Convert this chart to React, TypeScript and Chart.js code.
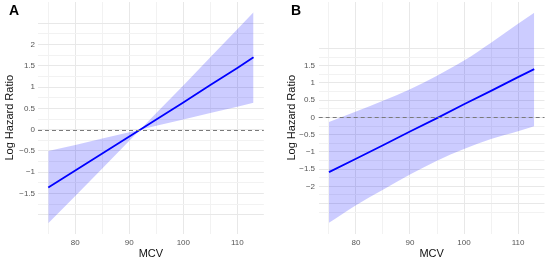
import React, { useEffect, useRef } from 'react';
import { Chart, registerables } from 'chart.js';
Chart.register(...registerables);

// Panel A data
const mcvA = [75, 80, 85, 90, 92, 95, 100, 105, 110, 113];
const logHrA = [-1.36, -0.96, -0.56, -0.16, 0, 0.24, 0.64, 1.05, 1.45, 1.7];
const upperA = [-0.5, -0.36, -0.21, -0.06, 0, 0.39, 1.04, 1.7, 2.36, 2.76];
const lowerA = [-2.2, -1.56, -0.91, -0.26, 0, 0.09, 0.24, 0.39, 0.54, 0.63];

// Panel B data
const mcvB = [75, 80, 85, 90, 95, 100, 105, 110, 113];
const logHrB = [-1.59, -1.2, -0.81, -0.41, -0.02, 0.38, 0.77, 1.17, 1.4];
const upperB = [-0.13, 0.17, 0.48, 0.82, 1.21, 1.65, 2.17, 2.72, 3.04];
const lowerB = [-3.06, -2.55, -2.1, -1.66, -1.26, -0.92, -0.63, -0.4, -0.26];

// Axis ticks
const xTickLabels = [80, 90, 100, 110];
const yLabelsA = [-1.5, -1, -0.5, 0, 0.5, 1, 1.5, 2];
const yLabelsB = [-2, -1.5, -1, -0.5, 0, 0.5, 1, 1.5];

const FONT = "'Liberation Sans', Arial, Helvetica, sans-serif";

const fmt = (v: number) => (v < 0 ? '\u2212' + Math.abs(v) : String(v));

const zeroLine = {
  id: 'zeroLine',
  afterDatasetsDraw(chart: any) {
    const { ctx, chartArea, scales } = chart;
    const py = Math.round(scales.y.getPixelForValue(0)) + 0.5;
    ctx.save();
    ctx.strokeStyle = '#7a7a7a';
    ctx.lineWidth = 1;
    ctx.setLineDash([4, 3]);
    ctx.beginPath();
    ctx.moveTo(chartArea.left, py);
    ctx.lineTo(chartArea.right, py);
    ctx.stroke();
    ctx.restore();
  },
};

type PanelProps = {
  xs: number[];
  center: number[];
  upper: number[];
  lower: number[];
  yLabels: number[];
  yMin: number;
  yMax: number;
  gridFrom: number;
  gridTo: number;
  yWidth: number;
  titlePad: number;
  tickPad: number;
  rightPad: number;
  curved: boolean;
};

function Panel(p: PanelProps) {
  const ref = useRef<HTMLCanvasElement>(null);
  useEffect(() => {
    if (!ref.current) return;
    const toPts = (ys: number[]) => p.xs.map((x, i) => ({ x, y: ys[i] }));
    const interp = p.curved ? 'monotone' : 'default';
    const chart = new Chart(ref.current, {
      type: 'line',
      data: {
        datasets: [
          {
            label: 'lower',
            data: toPts(p.lower),
            borderWidth: 0,
            pointRadius: 0,
            fill: false,
            tension: 0,
            cubicInterpolationMode: interp as any,
            borderColor: 'rgba(0,0,0,0)',
          },
          {
            label: 'upper',
            data: toPts(p.upper),
            borderWidth: 0,
            pointRadius: 0,
            fill: '-1',
            backgroundColor: 'rgba(0,0,255,0.2)',
            tension: 0,
            cubicInterpolationMode: interp as any,
            borderColor: 'rgba(0,0,0,0)',
          },
          {
            label: 'fit',
            data: toPts(p.center),
            borderWidth: 1.8,
            borderColor: '#0000ff',
            pointRadius: 0,
            fill: false,
            tension: 0,
          },
        ],
      },
      options: {
        responsive: false,
        animation: false,
        events: [],
        layout: { padding: { top: 2, right: p.rightPad, bottom: 0, left: 0 } },
        plugins: { legend: { display: false }, tooltip: { enabled: false } },
        scales: {
          x: {
            type: 'linear',
            min: 73.1,
            max: 114.9,
            border: { display: false },
            afterBuildTicks: (s: any) => {
              const t = [];
              for (let v = 75; v <= 110; v += 5) t.push({ value: v });
              s.ticks = t;
            },
            afterFit: (s: any) => {
              s.height = 27.5;
            },
            grid: {
              drawTicks: false,
              color: (c: any) => (xTickLabels.includes(c.tick?.value) ? '#e8e8e8' : '#f2f2f2'),
              lineWidth: 1,
            },
            ticks: {
              padding: 4,
              color: '#555555',
              font: { family: FONT, size: 8 },
              maxRotation: 0,
              autoSkip: false,
              callback: (v: any) => (xTickLabels.includes(v) ? String(v) : ''),
            },
            title: {
              display: true,
              text: 'MCV',
              color: '#111111',
              font: { family: FONT, size: 11 },
              padding: { top: 0, bottom: 0 },
            },
          },
          y: {
            type: 'linear',
            min: p.yMin,
            max: p.yMax,
            border: { display: false },
            afterBuildTicks: (s: any) => {
              const t = [];
              for (let v = p.gridFrom; v <= p.gridTo + 1e-9; v += 0.25) t.push({ value: Math.round(v * 100) / 100 });
              s.ticks = t;
            },
            afterFit: (s: any) => {
              s.width = p.yWidth;
              s.paddingTop = 0;
              s.paddingBottom = 0;
            },
            grid: {
              drawTicks: false,
              color: (c: any) => (Math.abs((c.tick?.value * 2) % 1) < 1e-6 ? '#e8e8e8' : '#f2f2f2'),
              lineWidth: 1,
            },
            ticks: {
              padding: p.tickPad,
              color: '#555555',
              font: { family: FONT, size: 8, lineHeight: 0.05 },
              autoSkip: false,
              callback: (v: any) => (p.yLabels.includes(v) ? fmt(v) : ''),
            },
            title: {
              display: true,
              text: 'Log Hazard Ratio',
              color: '#111111',
              font: { family: FONT, size: 11 },
              padding: { top: p.titlePad, bottom: 0 },
            },
          },
        },
      },
      plugins: [zeroLine],
    } as any);
    return () => chart.destroy();
  }, []);
  return <canvas ref={ref} width={275} height={261} style={{ display: 'block', width: 275, height: 261 }} />;
}

const labelStyle: React.CSSProperties = {
  position: 'absolute',
  top: 3,
  fontFamily: FONT,
  fontWeight: 'bold',
  fontSize: 14,
  lineHeight: '14px',
  color: '#000',
};

export default function App() {
  useEffect(() => {
    document.body.style.margin = '0';
  }, []);
  return (
    <div style={{ position: 'absolute', left: 0, top: 0, width: 550, height: 261, background: '#fff' }}>
      <div style={{ position: 'absolute', left: 0, top: 0 }}>
        <Panel
          xs={mcvA}
          center={logHrA}
          upper={upperA}
          lower={lowerA}
          yLabels={yLabelsA}
          yMin={-2.44}
          yMax={3.0}
          gridFrom={-2.0}
          gridTo={2.5}
          yWidth={38}
          titlePad={3.4}
          tickPad={3}
          rightPad={11.2}
          curved={false}
        />
      </div>
      <div style={{ position: 'absolute', left: 275, top: 0 }}>
        <Panel
          xs={mcvB}
          center={logHrB}
          upper={upperB}
          lower={lowerB}
          yLabels={yLabelsB}
          yMin={-3.37}
          yMax={3.35}
          gridFrom={-2.75}
          gridTo={2.0}
          yWidth={43.7}
          titlePad={10}
          tickPad={3.7}
          rightPad={5.5}
          curved={true}
        />
      </div>
      <div style={{ ...labelStyle, left: 9 }}>A</div>
      <div style={{ ...labelStyle, left: 291 }}>B</div>
    </div>
  );
}
